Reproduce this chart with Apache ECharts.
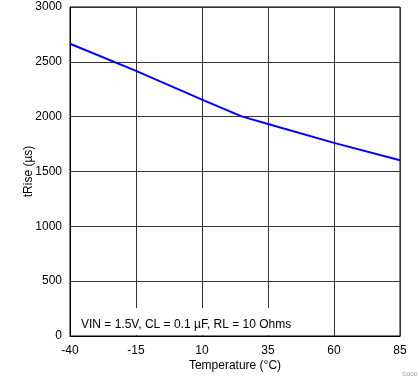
<!DOCTYPE html>
<html>
<head>
<meta charset="utf-8">
<script src="https://cdn.jsdelivr.net/npm/echarts@6/dist/echarts.min.js"></script>
<style>html,body{margin:0;padding:0;background:#fff}#c{width:419px;height:382px}</style>
</head>
<body>
<div id="c"></div>
<script>
const temperatures = [-40, -15, 10, 25, 35, 60, 85];
const tRise = [2665, 2418, 2155, 2003, 1933, 1761, 1603];
const xTicks = [-40, -15, 10, 35, 60, 85];
const yTicks = [0, 500, 1000, 1500, 2000, 2500, 3000];
const note = 'VIN = 1.5V, CL = 0.1 µF, RL = 10 Ohms';
const X0 = xTicks[0];

const chart = echarts.init(document.getElementById('c'), null, {renderer: 'canvas'});
const font = 'Liberation Sans, Arial, sans-serif';
chart.setOption({
  animation: false,
  grid: {left: 70, top: 7, right: 19, bottom: 46, show: true, borderColor: '#000', borderWidth: 1},
  xAxis: {
    type: 'value', min: 0, max: xTicks[xTicks.length-1] - X0, interval: 25,
    name: 'Temperature (°C)', nameLocation: 'middle', nameGap: 24, nameMoveOverlap: false,
    nameTextStyle: {fontFamily: font, fontSize: 12, color: '#000'},
    axisLine: {show: true, lineStyle: {color: '#000', width: 1}},
    axisTick: {show: false},
    axisLabel: {fontFamily: font, fontSize: 12, color: '#000', margin: 9, formatter: v => String(v + X0)},
    splitLine: {show: true, lineStyle: {color: '#333', width: 1}}
  },
  yAxis: {
    type: 'value', min: yTicks[0], max: yTicks[yTicks.length-1], interval: 500,
    name: 'tRise (µs)', nameLocation: 'middle', nameGap: 35, nameMoveOverlap: false,
    nameTextStyle: {fontFamily: font, fontSize: 12, color: '#000'},
    axisLine: {show: true, lineStyle: {color: '#000', width: 1}},
    axisTick: {show: false},
    axisLabel: {fontFamily: font, fontSize: 12, color: '#000', margin: 8, formatter: v => String(v)},
    splitLine: {show: true, lineStyle: {color: '#333', width: 1}}
  },
  series: [{
    type: 'line',
    data: temperatures.map((t, i) => [t - X0, tRise[i]]),
    showSymbol: false,
    lineStyle: {color: '#0000ff', width: 2},
    z: 5
  }],
  graphic: [
    {type: 'rect', left: 71, top: 308, shape: {width: 224, height: 27}, style: {fill: '#fff'}, z: 10},
    {type: 'text', left: 81, top: 319, style: {text: note, font: '12px ' + font, fill: '#000'}, z: 11},
    {type: 'text', right: 2, bottom: 5, style: {text: 'G000', font: '6px ' + font, fill: '#999'}, z: 11}
  ]
});
</script>
</body>
</html>
